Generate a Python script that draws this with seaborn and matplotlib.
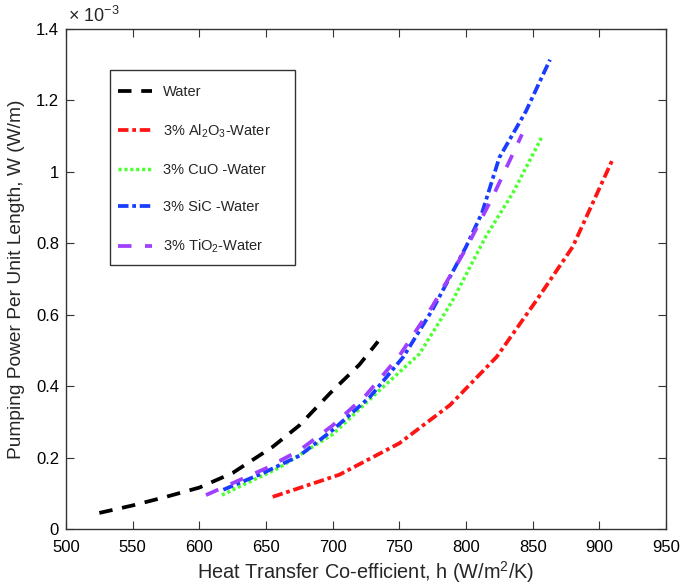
import matplotlib
matplotlib.use("Agg")
import matplotlib.pyplot as plt
import seaborn as sns
import pandas as pd
from matplotlib.ticker import FuncFormatter, MultipleLocator
from matplotlib.patches import Rectangle

sns.set_theme(style="white")
plt.rcParams['font.family'] = ['Liberation Sans', 'DejaVu Sans']
plt.rcParams['mathtext.fontset'] = 'custom'
plt.rcParams['mathtext.rm'] = 'Liberation Sans'
plt.rcParams['mathtext.it'] = 'Liberation Sans:italic'

# Data (W in units of 1e-3 W/m)
water_h = [525, 550, 575, 600, 625, 655, 675, 698, 720, 734]
water_w = [0.045, 0.066, 0.09, 0.116, 0.157, 0.23, 0.29, 0.38, 0.46, 0.525]

al2o3_h = [655, 705, 750, 788, 823, 853, 880, 910]
al2o3_w = [0.09, 0.152, 0.24, 0.347, 0.482, 0.641, 0.79, 1.035]

cuo_h = [617, 660, 700, 735, 765, 790, 815, 835, 857]
cuo_w = [0.095, 0.172, 0.265, 0.388, 0.49, 0.64, 0.82, 0.94, 1.098]

sic_h = [618, 648, 675, 700, 728, 753, 775, 800, 812, 825, 845, 863]
sic_w = [0.11, 0.157, 0.205, 0.277, 0.37, 0.482, 0.615, 0.79, 0.885, 1.04, 1.17, 1.314]

tio2_h = [605, 620, 650, 675, 700, 725, 750, 775, 800, 820, 842]
tio2_w = [0.095, 0.12, 0.17, 0.22, 0.29, 0.375, 0.485, 0.625, 0.785, 0.93, 1.105]

labels = ['Water', '3% Al$_2$O$_3$-Water', '3% CuO -Water', '3% SiC -Water', '3% TiO$_2$-Water']
colors = ['#000000', '#ff1414', '#4cff30', '#1a3cff', '#a040ff']

series = [(water_h, water_w), (al2o3_h, al2o3_w), (cuo_h, cuo_w), (sic_h, sic_w), (tio2_h, tio2_w)]
styles = [
    dict(linewidth=2.7, linestyle=(0, (3.6, 2.6))),
    dict(linewidth=2.7, linestyle=(0, (2.8, 1.0, 1.0, 1.0))),
    dict(linewidth=2.5, linestyle=(0, (0.9, 0.8))),
    dict(linewidth=2.7, linestyle=(0, (2.8, 1.0, 1.0, 1.0))),
    dict(linewidth=2.7, linestyle=(0, (3.6, 3.6))),
]

fig = plt.figure(figsize=(6.85, 5.88), dpi=100)
ax = fig.add_axes([66/685, 59/588, 600/685, 500/588])

for (h, w), lab, col, st in zip(series, labels, colors, styles):
    df = pd.DataFrame({'h': h, 'W': w})
    sns.lineplot(data=df, x='h', y='W', color=col, label=lab, sort=False, ax=ax, **st)

ax.set_xlim(500, 950)
ax.set_ylim(0, 1.4)
ax.xaxis.set_major_locator(MultipleLocator(50))
ax.yaxis.set_major_locator(MultipleLocator(0.2))
ax.yaxis.set_major_formatter(FuncFormatter(lambda v, p: '%g' % round(v, 2)))

for s in ax.spines.values():
    s.set_color('#333333')
    s.set_linewidth(1.0)
    s.set_visible(True)

ax.tick_params(direction='in', length=6, width=0.8, color='#333333',
               top=True, right=True, bottom=True, left=True,
               labelsize=12, labelcolor='black')
ax.tick_params(axis='x', pad=8)
ax.tick_params(axis='y', pad=5)

ax.set_xlabel('Heat Transfer Co-efficient, h (W/m$^2$/K)', fontsize=14.3, labelpad=3)
ax.set_ylabel('Pumping Power Per Unit Length, W (W/m)', fontsize=13.8, labelpad=8)

fig.text(68/685, 1 - 16/588, '\u00d7 10$^{-3}$', fontsize=13, va='center', ha='left')

# legend box drawn as a rectangle, entries placed inside
ax.add_patch(Rectangle((110/685, 1 - 265/588), 185/685, 195/588, transform=fig.transFigure,
                       fill=True, facecolor='white', edgecolor='#333333', linewidth=1.0,
                       zorder=4))
leg = ax.legend(loc='upper left', bbox_to_anchor=(118/685, 1 - 85/588),
                bbox_transform=fig.transFigure,
                frameon=False, handlelength=2.35, handletextpad=0.75, labelspacing=1.6,
                borderpad=0, fontsize=10.5, borderaxespad=0)
leg.set_zorder(5)

fig.savefig('out.png', dpi=100)
